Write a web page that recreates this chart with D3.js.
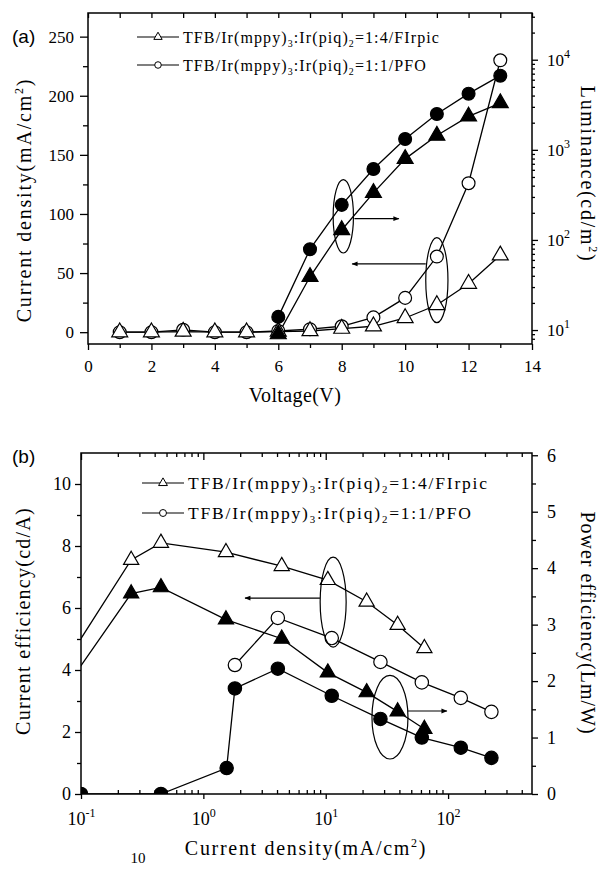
<!DOCTYPE html>
<html>
<head>
<meta charset="utf-8">
<script src="https://cdn.jsdelivr.net/npm/d3@7"></script>
<style>
body { margin: 0; background: #fff; }
</style>
</head>
<body>
<script>
//---- panel (a): J-V and L-V
var voltage    = [1, 2, 3, 4, 5, 6, 7, 8, 9, 10, 11, 12, 13];
var jFIrpic    = [0, 0, 0.5, 0, 0, 0.5, 1, 3, 5, 12, 23, 41, 65];
var jPFO       = [0, 0, 2, 0, 0, 1, 2.5, 5, 12.5, 29, 64, 126, 230];
var voltageLum = [6, 7, 8, 9, 10, 11, 12, 13];
var lumFIrpic  = [9, 39, 129, 333, 794, 1440, 2350, 3300];
var lumPFO     = [14, 79, 245, 613, 1320, 2500, 4200, 6650];

//---- panel (b): efficiencies vs current density
var jbFIrpic = [0.07, 0.257, 0.45, 1.53, 4.37, 10.4, 21.6, 38.7, 64];
var ceFIrpic = [4.06, 7.55, 8.1, 7.8, 7.35, 6.9, 6.2, 5.45, 4.7];
var peFIrpic = [1.79, 3.55, 3.66, 3.09, 2.75, 2.15, 1.8, 1.46, 1.15];
var jbPFO    = [0.1, 0.45, 1.55, 1.81, 4.06, 11.2, 28, 61, 127, 226];
var cePFO    = [null, null, null, 4.16, 5.68, 5.03, 4.26, 3.6, 3.1, 2.65];
var pePFO    = [0, 0, 0.46, 1.87, 2.22, 1.74, 1.33, 1.0, 0.82, 0.64];

//tick labels
var voltTicks = [0, 2, 4, 6, 8, 10, 12, 14];
var jTicks    = [0, 50, 100, 150, 200, 250];
var lumTicks  = [10, 100, 1000, 10000];
var jbTicks   = [0.1, 1, 10, 100];
var ceTicks   = [0, 2, 4, 6, 8, 10];
var peTicks   = [0, 1, 2, 3, 4, 5, 6];

//legend text: [before sub, sub, middle, sub, after]
var legendA = ["TFB/Ir(mppy)", "3", ":Ir(piq)", "2", "=1:4/FIrpic"];
var legendB = ["TFB/Ir(mppy)", "3", ":Ir(piq)", "2", "=1:1/PFO"];

var SERIF = "'Liberation Serif', 'Times New Roman', serif";
var SANS = "'Liberation Sans', Arial, sans-serif";

var svg = d3.select("body").append("svg")
    .attr("width", 605)
    .attr("height", 872)
    .attr("font-family", SERIF);
svg.append("rect").attr("width", 605).attr("height", 872).attr("fill", "#fff");

var defs = svg.append("defs");
defs.append("marker")
    .attr("id", "arrow")
    .attr("viewBox", "0 0 10 10")
    .attr("refX", 9).attr("refY", 5)
    .attr("markerWidth", 9).attr("markerHeight", 6)
    .attr("markerUnits", "userSpaceOnUse")
    .attr("orient", "auto")
    .append("path").attr("d", "M0,1L10,5L0,9Z").attr("fill", "#000");

//helpers
function styleAxis(g, size) {
    g.attr("font-family", SERIF).attr("font-size", size);
    g.select(".domain").remove();
    g.selectAll(".tick line").attr("stroke", "#000").attr("stroke-width", 1.3);
    g.selectAll(".tick text").attr("fill", "#000");
    return g;
}
function powerLabels(g) {
    g.selectAll(".tick text").each(function(d) {
        var t = d3.select(this);
        t.text(null);
        t.append("tspan").text("10");
        t.append("tspan").attr("dy", -8).attr("font-size", 12).text(Math.round(Math.log10(d)));
    });
}
function logMinor(lo, hi) {
    var out = [];
    for (var e = -2; e <= 5; e++) {
        for (var m = 2; m <= 9; m++) {
            var v = m * Math.pow(10, e);
            if (v > lo && v < hi) out.push(v);
        }
    }
    return out;
}
function addAxis(axis, tx, ty, size) {
    var g = svg.append("g").attr("transform", "translate(" + tx + "," + ty + ")").call(axis);
    return styleAxis(g, size);
}
function subText(sel, parts) {
    sel.append("tspan").text(parts[0]);
    sel.append("tspan").attr("dy", 4).attr("font-size", "0.62em").text(parts[1]);
    sel.append("tspan").attr("dy", -4).text(parts[2]);
    sel.append("tspan").attr("dy", 4).attr("font-size", "0.62em").text(parts[3]);
    sel.append("tspan").attr("dy", -4).text(parts[4]);
}
function markers(g, xs, ys, x, y, type, filled, size) {
    var pts = xs.map(function(d, i) { return [d, ys[i]]; })
                .filter(function(p) { return p[1] != null; });
    var sym = d3.symbol().type(type === "tri" ? d3.symbolTriangle : d3.symbolCircle).size(size);
    g.selectAll(null)
        .data(pts)
        .enter()
        .append("path")
        .attr("d", sym)
        .attr("transform", function(p) { return "translate(" + x(p[0]) + "," + y(p[1]) + ")"; })
        .attr("fill", filled ? "#000" : "#fff")
        .attr("stroke", "#000")
        .attr("stroke-width", 1.2);
}
function series(g, xs, ys, x, y) {
    var line = d3.line()
        .defined(function(d) { return d[1] != null; })
        .x(function(d) { return x(d[0]); })
        .y(function(d) { return y(d[1]); });
    g.append("path")
        .datum(xs.map(function(d, i) { return [d, ys[i]]; }))
        .attr("d", line)
        .attr("fill", "none")
        .attr("stroke", "#000")
        .attr("stroke-width", 1.3);
}
function legendRow(lx, ly, type, parts, fsize, spacing, symSize) {
    svg.append("line")
        .attr("x1", lx).attr("x2", lx + 42)
        .attr("y1", ly).attr("y2", ly)
        .attr("stroke", "#000").attr("stroke-width", 1.2);
    svg.append("path")
        .attr("d", d3.symbol().type(type === "tri" ? d3.symbolTriangle : d3.symbolCircle).size(symSize))
        .attr("transform", "translate(" + (lx + 21) + "," + ly + ")")
        .attr("fill", "#fff").attr("stroke", "#000").attr("stroke-width", 1);
    var t = svg.append("text")
        .attr("x", lx + 46)
        .attr("y", ly + 6)
        .attr("font-size", fsize)
        .attr("letter-spacing", spacing);
    subText(t, parts);
}
function supTitle(transform, main, fsize, spacing, anchorX, anchorY) {
    var t = svg.append("text")
        .attr("transform", transform)
        .attr("text-anchor", "middle")
        .attr("font-size", fsize)
        .attr("letter-spacing", spacing);
    t.append("tspan").text(main);
    t.append("tspan").attr("dy", -8).attr("font-size", 12).text("2");
    t.append("tspan").attr("dy", 8).text(")");
    return t;
}

//================ panel (a) ================
var xA  = d3.scaleLinear().domain([0, 14]).range([88, 532]);
var yA  = d3.scaleLinear().domain([-10, 270]).range([344, 13]);
var yA2 = d3.scaleLog().domain([7, 33000]).range([344, 13]);

addAxis(d3.axisBottom(xA).tickValues(voltTicks).tickSize(6).tickPadding(10), 0, 344, 17);
addAxis(d3.axisBottom(xA).tickValues([1, 3, 5, 7, 9, 11, 13]).tickSize(4).tickFormat(""), 0, 344, 17);
addAxis(d3.axisTop(xA).tickValues(d3.range(0, 15)).tickSize(-5).tickFormat(""), 0, 13, 17);
addAxis(d3.axisLeft(yA).tickValues(jTicks).tickSize(8).tickPadding(6), 88, 0, 17);
addAxis(d3.axisLeft(yA).tickValues([25, 75, 125, 175, 225]).tickSize(5).tickFormat(""), 88, 0, 17);
var rA = addAxis(d3.axisRight(yA2).tickValues(lumTicks).tickSize(6).tickPadding(9), 532, 0, 17);
powerLabels(rA);
addAxis(d3.axisRight(yA2).tickValues(logMinor(7, 33000)).tickSize(3).tickFormat(""), 532, 0, 17);

svg.append("rect")
    .attr("x", 88).attr("y", 13).attr("width", 444).attr("height", 331)
    .attr("fill", "none").attr("stroke", "#000").attr("stroke-width", 1.5);

defs.append("clipPath").attr("id", "clipA")
    .append("rect").attr("x", 88).attr("y", 13).attr("width", 444).attr("height", 331);
var gA = svg.append("g").attr("clip-path", "url(#clipA)");

series(gA, voltage, jFIrpic, xA, yA);
series(gA, voltage, jPFO, xA, yA);
series(gA, voltageLum, lumFIrpic, xA, yA2);
series(gA, voltageLum, lumPFO, xA, yA2);
markers(gA, voltage, jPFO, xA, yA, "circle", false, 130);
markers(gA, voltage, jFIrpic, xA, yA, "tri", false, 110);
markers(gA, voltageLum, lumFIrpic, xA, yA2, "tri", true, 110);
markers(gA, voltageLum, lumPFO, xA, yA2, "circle", true, 130);

//annotations (a)
svg.append("ellipse")
    .attr("cx", xA(8.05)).attr("cy", yA(98))
    .attr("rx", xA(8.37) - xA(8.05)).attr("ry", yA(67) - yA(98))
    .attr("fill", "none").attr("stroke", "#000").attr("stroke-width", 1.2);
svg.append("line")
    .attr("x1", xA(8.4)).attr("y1", yA(96)).attr("x2", xA(9.8)).attr("y2", yA(96))
    .attr("stroke", "#000").attr("stroke-width", 1.2).attr("marker-end", "url(#arrow)");
svg.append("ellipse")
    .attr("cx", xA(11.0)).attr("cy", yA(44))
    .attr("rx", xA(11.35) - xA(11.0)).attr("ry", yA(8) - yA(44))
    .attr("fill", "none").attr("stroke", "#000").attr("stroke-width", 1.2);
svg.append("line")
    .attr("x1", xA(10.65)).attr("y1", yA(57.7)).attr("x2", xA(8.33)).attr("y2", yA(57.7))
    .attr("stroke", "#000").attr("stroke-width", 1.2).attr("marker-end", "url(#arrow)");

legendRow(137, 37, "tri", legendA, 16, 1.1, 30);
legendRow(137, 65, "circle", legendB, 16, 1.1, 34);

svg.append("text").attr("x", 12).attr("y", 43)
    .attr("font-family", SANS).attr("font-size", 19).text("(a)");
svg.append("text").attr("x", 295).attr("y", 402).attr("text-anchor", "middle")
    .attr("font-size", 20).attr("letter-spacing", 0.4).text("Voltage(V)");
supTitle("translate(31,200) rotate(-90)", "Current density(mA/cm", 20, 1.8);
supTitle("translate(581,174) rotate(90)", "Luminance(cd/m", 20, 1.7);

//================ panel (b) ================
var xB  = d3.scaleLog().domain([0.1, 485]).range([81, 532]);
var yB  = d3.scaleLinear().domain([0, 11]).range([794, 453]);
var yB2 = d3.scaleLinear().domain([0, 6.04]).range([794, 453]);

var bB = addAxis(d3.axisBottom(xB).tickValues(jbTicks).tickSize(5).tickPadding(13), 0, 794, 18);
powerLabels(bB);
addAxis(d3.axisBottom(xB).tickValues(logMinor(0.1, 485)).tickSize(-4).tickFormat(""), 0, 794, 18);
addAxis(d3.axisTop(xB).tickValues(jbTicks).tickSize(-7).tickFormat(""), 0, 453, 18);
addAxis(d3.axisTop(xB).tickValues(logMinor(0.1, 485)).tickSize(-4).tickFormat(""), 0, 453, 18);
addAxis(d3.axisLeft(yB).tickValues(ceTicks).tickSize(6).tickPadding(4).tickFormat(d3.format("d")), 81, 0, 18);
addAxis(d3.axisLeft(yB).tickValues([1, 3, 5, 7, 9]).tickSize(4).tickFormat(""), 81, 0, 18);
addAxis(d3.axisRight(yB2).tickValues(peTicks).tickSize(6).tickPadding(9).tickFormat(d3.format("d")), 532, 0, 18);
addAxis(d3.axisRight(yB2).tickValues([0.5, 1.5, 2.5, 3.5, 4.5, 5.5]).tickSize(4).tickFormat(""), 532, 0, 18);

svg.append("rect")
    .attr("x", 81).attr("y", 453).attr("width", 451).attr("height", 341)
    .attr("fill", "none").attr("stroke", "#000").attr("stroke-width", 1.5);

defs.append("clipPath").attr("id", "clipB")
    .append("rect").attr("x", 81).attr("y", 453).attr("width", 451).attr("height", 341);
var gB = svg.append("g").attr("clip-path", "url(#clipB)");

series(gB, jbFIrpic, ceFIrpic, xB, yB);
series(gB, jbFIrpic, peFIrpic, xB, yB2);
series(gB, jbPFO, cePFO, xB, yB);
series(gB, jbPFO, pePFO, xB, yB2);
markers(gB, jbFIrpic, ceFIrpic, xB, yB, "tri", false, 100);
markers(gB, jbPFO, cePFO, xB, yB, "circle", false, 140);
markers(gB, jbFIrpic, peFIrpic, xB, yB2, "tri", true, 100);
markers(gB, jbPFO, pePFO, xB, yB2, "circle", true, 140);

//annotations (b)
svg.append("ellipse")
    .attr("cx", xB(11.5)).attr("cy", yB(6.19))
    .attr("rx", 13).attr("ry", yB(4.74) - yB(6.19))
    .attr("fill", "none").attr("stroke", "#000").attr("stroke-width", 1.2);
svg.append("line")
    .attr("x1", xB(8.97)).attr("y1", yB(6.32)).attr("x2", xB(2.19)).attr("y2", yB(6.32))
    .attr("stroke", "#000").attr("stroke-width", 1.2).attr("marker-end", "url(#arrow)");
svg.append("ellipse")
    .attr("cx", xB(33.5)).attr("cy", yB2(1.36))
    .attr("rx", 18).attr("ry", yB2(0.62) - yB2(1.36))
    .attr("fill", "none").attr("stroke", "#000").attr("stroke-width", 1.2);
svg.append("line")
    .attr("x1", xB(47)).attr("y1", yB2(1.47)).attr("x2", xB(97.7)).attr("y2", yB2(1.47))
    .attr("stroke", "#000").attr("stroke-width", 1.2).attr("marker-end", "url(#arrow)");

legendRow(142, 483, "tri", legendA, 17.5, 1.8, 34);
legendRow(142, 513, "circle", legendB, 17.5, 1.8, 38);

svg.append("text").attr("x", 12).attr("y", 463)
    .attr("font-family", SANS).attr("font-size", 19).text("(b)");
supTitle("translate(306,855)", "Current density(mA/cm", 20, 1.7);
svg.append("text").attr("transform", "translate(30,621) rotate(-90)")
    .attr("text-anchor", "middle").attr("font-size", 20).attr("letter-spacing", 1.25)
    .text("Current efficiency(cd/A)");
svg.append("text").attr("transform", "translate(581,623) rotate(90)")
    .attr("text-anchor", "middle").attr("font-size", 20).attr("letter-spacing", 1)
    .text("Power efficiency(Lm/W)");
svg.append("text").attr("x", 138).attr("y", 863).attr("text-anchor", "middle")
    .attr("font-size", 15).text("10");
</script>
</body>
</html>
